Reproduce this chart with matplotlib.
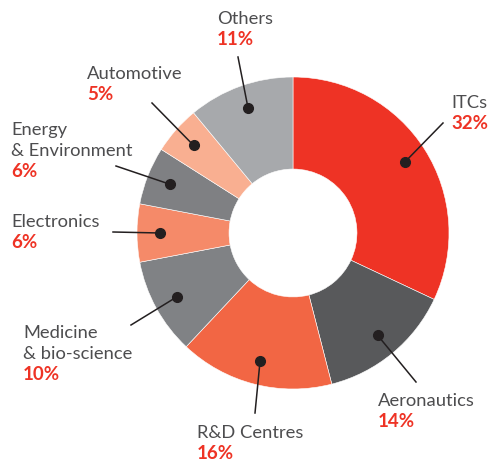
import numpy as np
import matplotlib.pyplot as plt

# shares of each sector, clockwise from 12 o'clock
sectors = ['ITCs', 'Aeronautics', 'R&D Centres', 'Medicine\n& bio-science',
           'Electronics', 'Energy\n& Environment', 'Automotive', 'Others']
shares = [32, 14, 16, 10, 6, 6, 5, 11]
colors = ['#EE3325', '#58595B', '#F26644', '#808285',
          '#F58A69', '#7F8083', '#F9AF91', '#A7A9AC']

# label layout in pixels: (left x, first baseline y), leader line start
label_pos = [(451, 108), (378, 406), (197, 438), (23, 338),
             (11, 227), (11, 135), (87, 79), (217, 24)]
leader_end = [(443, 123), (416, 382), (255, 413), (131, 325),
              (113, 232), (116, 166), (152, 103), (238, 57)]

W, H = 491, 463
CX, CY, R = 293, 233, 156
LINE = 21

def px(x, y):
    return (x - CX) / R, (CY - y) / R

fig = plt.figure(figsize=(W / 100, H / 100), dpi=100)
ax = fig.add_axes([0, 0, 1, 1])

wedges, _ = ax.pie(shares, colors=colors, startangle=90, counterclock=False,
                   radius=1, wedgeprops=dict(width=0.59, edgecolor='white', linewidth=0.4))
# pie resets the limits, so set them afterwards
ax.set_xlim(-CX / R, (W - CX) / R)
ax.set_ylim(-(H - CY) / R, CY / R)
ax.set_aspect('equal')
ax.axis('off')

fam = ['Lato', 'DejaVu Sans']
for w, name, val, (lx, ly), (ex, ey) in zip(wedges, sectors, shares, label_pos, leader_end):
    mid = np.deg2rad((w.theta1 + w.theta2) / 2)
    dx, dy = 0.85 * np.cos(mid), 0.85 * np.sin(mid)
    x1, y1 = px(ex, ey)
    ax.plot([dx, x1], [dy, y1], color='#231F20', lw=1.1, zorder=3)
    ax.plot(dx, dy, 'o', color='#231F20', ms=7, zorder=4)
    lines = name.split('\n')
    for i, t in enumerate(lines):
        tx, ty = px(lx, ly + i * LINE)
        ax.text(tx, ty, t, ha='left', va='baseline', fontsize=13.2,
                color='#4D4D4F', family=fam)
    tx, ty = px(lx, ly + len(lines) * LINE)
    ax.text(tx, ty, f'{val}%', ha='left', va='baseline', fontsize=13.5,
            color='#EE3325', fontweight='bold', family=fam)

fig.savefig('out.png', dpi=100)
